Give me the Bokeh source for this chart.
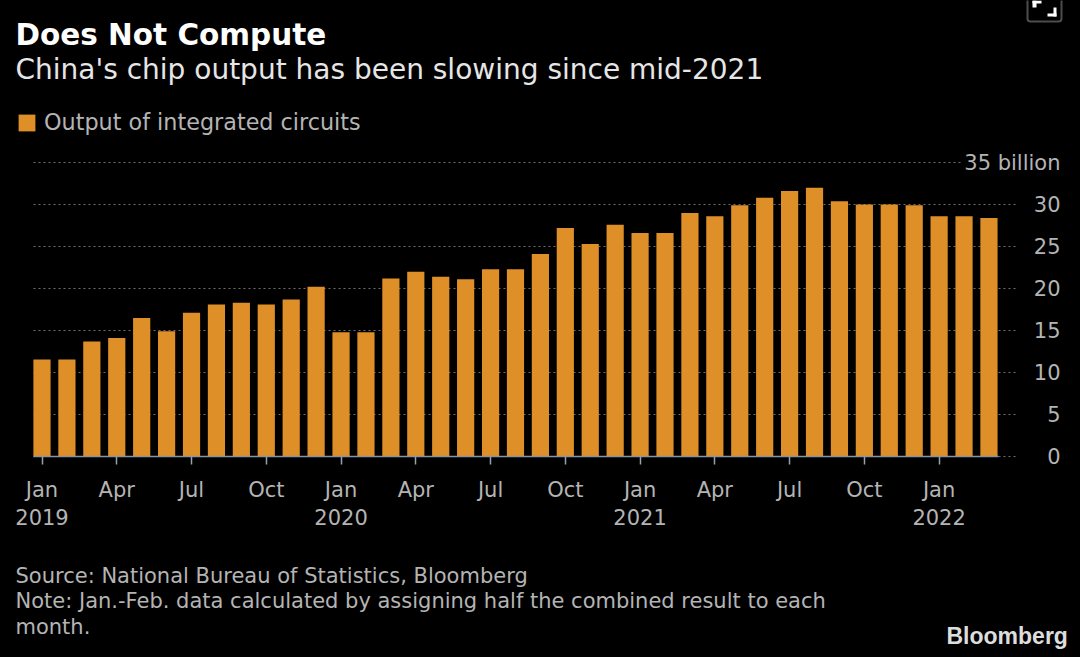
from bokeh.embed import file_html
from bokeh.resources import INLINE
from bokeh.plotting import figure
from bokeh.models import (Range1d, LinearAxis, FixedTicker, Label, Legend, LegendItem, BoxAnnotation, ColumnDataSource)

title = "Does Not Compute"
subtitle = "China's chip output has been slowing since mid-2021"
series_name = "Output of integrated circuits"
source_lines = ["Source: National Bureau of Statistics, Bloomberg",
                "Note: Jan.-Feb. data calculated by assigning half the combined result to each",
                "month."]
values = [11.55, 11.55, 13.7, 14.1, 16.5, 14.9, 17.1, 18.1, 18.3, 18.1, 18.7, 20.2,
          14.8, 14.8, 21.2, 22.0, 21.4, 21.1, 22.3, 22.3, 24.1, 27.2, 25.3, 27.6,
          26.6, 26.6, 29.0, 28.6, 29.9, 30.8, 31.6, 32.0, 30.4, 30.0, 30.0, 29.9,
          28.6, 28.6, 28.4]
x_ticks = [0, 3, 6, 9, 12, 15, 18, 21, 24, 27, 30, 33, 36]
x_labels = ["Jan\n2019", "Apr", "Jul", "Oct", "Jan\n2020", "Apr", "Jul", "Oct",
            "Jan\n2021", "Apr", "Jul", "Oct", "Jan\n2022"]
y_ticks = [0, 5, 10, 15, 20, 25, 30, 35]
y_labels = ["0", "5", "10", "15", "20", "25", "30", "35 billion"]

BG = "#000000"
BAR = "#DF8F27"
GREY = "#B4B4B4"
GRID = "#6E6E6E"
FONT = "DejaVu Sans"

W, H = 1080, 657
X_PER = 24.92
Y_PER = 8.4
X0, Y0 = 41.5, 456          # pixel position of the first bar's centre and of the zero line
xs = lambda px: (px - X0) / X_PER

p = figure(width=W, height=H, output_backend="svg", toolbar_location=None,
           x_range=Range1d(xs(0), xs(W)), y_range=Range1d(-(H - Y0) / Y_PER, Y0 / Y_PER),
           x_axis_location=None, y_axis_location=None,
           min_border=0, background_fill_color=BG, border_fill_color=BG, outline_line_color=None)
p.xgrid.visible = False
p.ygrid.visible = False

grid_ends = [xs(1018)] * (len(y_ticks) - 1) + [xs(960)]
p.segment(x0=[xs(33)] * len(y_ticks), x1=grid_ends, y0=y_ticks, y1=y_ticks, line_color=GRID,
          line_dash="2 3", line_width=1)

src = ColumnDataSource(dict(x=list(range(len(values))), top=values))
bars = p.vbar(x="x", top="top", bottom=0, width=0.69, source=src, fill_color=BAR, line_color=None)

xaxis = LinearAxis(ticker=FixedTicker(ticks=x_ticks),
                   major_label_overrides=dict(zip(x_ticks, x_labels)),
                   fixed_location=0, bounds=(xs(33), xs(998)),
                   axis_line_color="#8A94A0", axis_line_width=1.5,
                   major_tick_line_color="#9AA0A8", major_tick_line_width=1.5,
                   major_tick_in=0, major_tick_out=8, minor_tick_line_color=None,
                   major_label_standoff=13, major_label_text_color=GREY,
                   major_label_text_font=FONT, major_label_text_font_size="21px")
p.add_layout(xaxis, "below")

yaxis = LinearAxis(ticker=FixedTicker(ticks=y_ticks),
                   major_label_overrides=dict(zip(y_ticks, y_labels)),
                   fixed_location=xs(1060),
                   axis_line_color=None, major_tick_line_color=None, minor_tick_line_color=None,
                   major_tick_in=0, major_tick_out=0, major_label_standoff=0,
                   major_label_text_color=GREY, major_label_text_font=FONT,
                   major_label_text_font_size="21px")
p.add_layout(yaxis, "left")

legend = Legend(items=[LegendItem(label=series_name, renderers=[bars])],
                location=(16, 522), orientation="horizontal",
                background_fill_alpha=0, border_line_color=None,
                label_text_color=GREY, label_text_font=FONT, label_text_font_size="22.3px",
                glyph_width=21, glyph_height=21, label_standoff=7, padding=0, margin=0)
p.add_layout(legend, "center")

def txt(s, x, y, size, color, bold=False, font=FONT):
    p.add_layout(Label(x=x, y=H - y, x_units="screen", y_units="screen", text=s, text_color=color,
                       text_font=font, text_font_size=size, text_baseline="alphabetic",
                       text_font_style="bold" if bold else "normal"))

txt(title, 15, 34, "29.5px", "#FFFFFF", True)
txt(subtitle, 15, 69, "28px", "#E6E6E6")
for i, s in enumerate(source_lines):
    txt(s, 15, 575 + i * 25.5, "21px", GREY)
txt("Bloomberg", 946, 635, "23px", "#DDDDDD", True, "Liberation Sans")

# fullscreen icon, cut off by the top of the window in the reference
def box(l, r, t, b, **kw):
    p.add_layout(BoxAnnotation(left=l, right=r, top=H - t, bottom=H - b, left_units="screen",
                               right_units="screen", top_units="screen", bottom_units="screen",
                               level="overlay", **kw))
box(1027, 1061, -6, 21, fill_alpha=0, line_color="#FFFFFF", line_width=2, border_radius=3)
box(1032, 1041, 0, 3, fill_color="#FFFFFF", fill_alpha=1, line_color=None)
box(1032, 1036, 0, 7, fill_color="#FFFFFF", fill_alpha=1, line_color=None)
box(1047, 1056, 13, 16, fill_color="#FFFFFF", fill_alpha=1, line_color=None)
box(1053, 1056, 7, 16, fill_color="#FFFFFF", fill_alpha=1, line_color=None)

html = file_html(p, INLINE)
html = html.replace("<head>", "<head><style>html,body{background:#000000;overflow:hidden;}</style>", 1)
open("out.html", "w").write(html)
